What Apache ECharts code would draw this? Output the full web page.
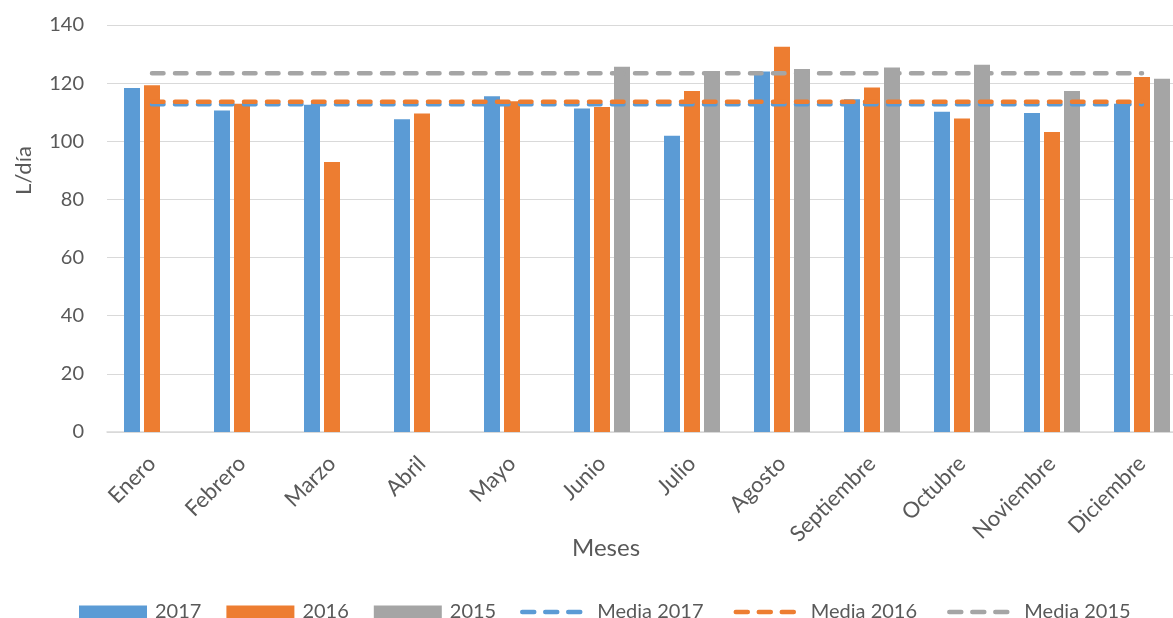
<!DOCTYPE html>
<html>
<head>
<meta charset="utf-8">
<script src="https://cdn.jsdelivr.net/npm/echarts@6/dist/echarts.min.js"></script>
<style>
  html, body { margin: 0; padding: 0; background: #fff; overflow: hidden; }
  /* plot area runs past the right edge in the original, so the canvas is wider than the window */
  #chart { width: 1187px; height: 618px; }
</style>
</head>
<body>
<div id="chart"></div>
<script>
// months on the x axis
var meses = ['Enero', 'Febrero', 'Marzo', 'Abril', 'Mayo', 'Junio', 'Julio',
  'Agosto', 'Septiembre', 'Octubre', 'Noviembre', 'Diciembre'];

// L/día per month
var datos2017 = [118.3, 110.6, 112.6, 107.6, 115.5, 111.3, 101.9, 124.0, 114.5, 110.2, 109.7, 112.9];
var datos2016 = [119.3, 112.9, 92.9, 109.6, 113.8, 111.8, 117.3, 132.5, 118.5, 107.8, 103.2, 122.1];
var datos2015 = [null, null, null, null, null, 125.6, 124.2, 124.9, 125.4, 126.3, 117.3, 121.5];

// yearly means (flat lines)
var media2017 = 112.7;
var media2016 = 113.6;
var media2015 = 123.4;

var colores = { a2017: '#5B9BD5', a2016: '#ED7D31', a2015: '#A5A5A5' };
var textColor = '#595959';
var fuente = 'Lato';

function flat(v) {
  return meses.map(function () { return v; });
}

var chart = echarts.init(document.getElementById('chart'), null, { renderer: 'canvas' });

function barSerie(name, data, color) {
  return {
    name: name,
    type: 'bar',
    data: data,
    barWidth: 16,
    barGap: '25%',
    itemStyle: { color: color },
    emphasis: { disabled: true }
  };
}

function lineSerie(name, v, color) {
  return {
    name: name,
    type: 'line',
    data: flat(v),
    symbol: 'none',
    showSymbol: false,
    z: 5,
    lineStyle: { color: color, width: 4.5, type: [11.5, 11.5], cap: 'round' },
    itemStyle: { color: color },
    emphasis: { disabled: true }
  };
}

var option = {
  backgroundColor: '#fff',
  animation: false,
  textStyle: { fontFamily: fuente, color: textColor },
  grid: { left: 107, right: 0, top: 25, bottom: 186, containLabel: false },
  legend: [
    {
      data: ['2017', '2016', '2015'],
      left: 74,
      top: 597,
      icon: 'rect',
      itemWidth: 68,
      itemHeight: 13,
      itemGap: 25,
      textStyle: { fontFamily: fuente, fontSize: 20, color: textColor, padding: [0, 0, 0, 3] }
    },
    {
      data: ['Media 2017', 'Media 2016', 'Media 2015'],
      left: 515,
      top: 597,
      itemWidth: 58,
      itemHeight: 13,
      itemGap: 30,
      itemStyle: { opacity: 0 },
      lineStyle: { width: 4.5, type: [12, 11], cap: 'round' },
      textStyle: { fontFamily: fuente, fontSize: 20, color: textColor, padding: [0, 0, 0, 12] }
    }
  ],
  xAxis: {
    type: 'category',
    data: meses,
    name: 'Meses',
    nameLocation: 'middle',
    nameGap: 104,
    nameMoveOverlap: false,
    nameTextStyle: { fontFamily: fuente, fontSize: 24, color: textColor, padding: [0, 82, 0, 0] },
    axisLine: { lineStyle: { color: '#d9d9d9', width: 1.5 } },
    axisTick: { show: false },
    axisLabel: { rotate: 45, margin: 28, fontFamily: fuente, fontSize: 22, color: textColor, interval: 0 }
  },
  yAxis: {
    type: 'value',
    min: 0,
    max: 140,
    interval: 20,
    name: 'L/día',
    nameLocation: 'middle',
    nameGap: 72,
    nameMoveOverlap: false,
    nameTextStyle: { fontFamily: fuente, fontSize: 22, color: textColor, padding: [0, 0, 0, 116] },
    axisLine: { show: false },
    axisTick: { show: false },
    axisLabel: { margin: 23, fontFamily: fuente, fontSize: 20, color: textColor },
    splitLine: { lineStyle: { color: '#d9d9d9', width: 1.2 } }
  },
  series: [
    barSerie('2017', datos2017, colores.a2017),
    barSerie('2016', datos2016, colores.a2016),
    barSerie('2015', datos2015, colores.a2015),
    lineSerie('Media 2017', media2017, colores.a2017),
    lineSerie('Media 2016', media2016, colores.a2016),
    lineSerie('Media 2015', media2015, colores.a2015)
  ]
};

chart.setOption(option);
window.addEventListener('resize', chart.resize);
</script>
</body>
</html>
